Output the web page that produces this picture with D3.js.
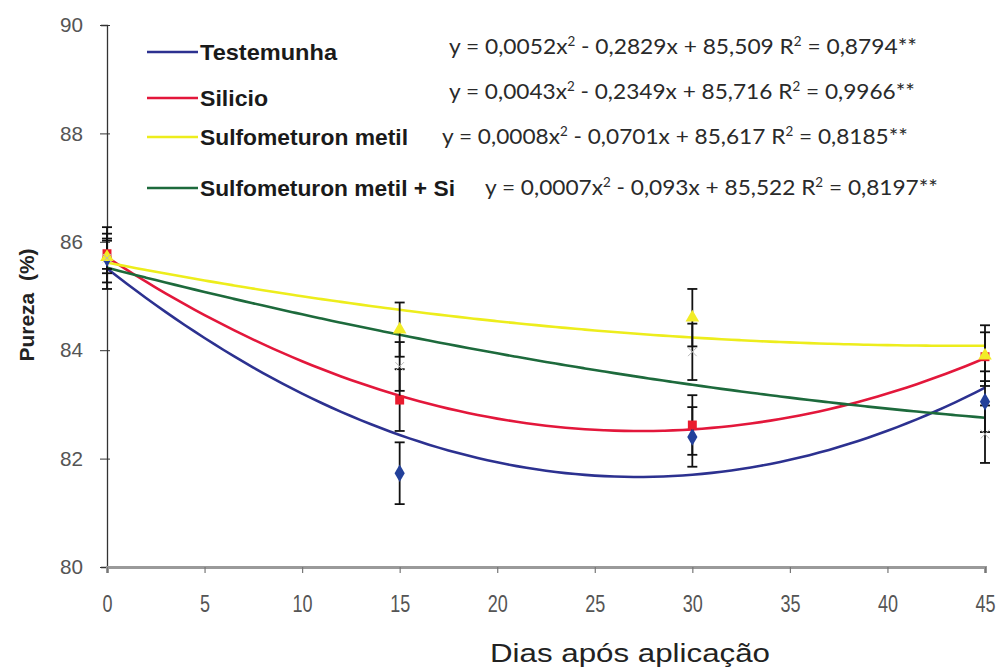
<!DOCTYPE html>
<html>
<head>
<meta charset="utf-8">
<script src="https://cdn.jsdelivr.net/npm/d3@7"></script>
<style>
  html, body { margin: 0; padding: 0; background: #fff; }
  svg { display: block; }
</style>
</head>
<body>
<svg id="chart" width="1000" height="670"></svg>
<script>
// Days after application
const days = [0, 15, 30, 45];
const xTicks = [0, 5, 10, 15, 20, 25, 30, 35, 40, 45];
const yTicks = [80, 82, 84, 86, 88, 90];

// Treatments
const seriesNames = ["Testemunha", "Silicio", "Sulfometuron metil", "Sulfometuron metil + Si"];

// Mean purity (%) per treatment
const testemunha   = [85.70, 81.73, 82.40, 83.05];
const silicio      = [85.78, 83.08, 82.62, 83.88];
const sulfometuron = [85.72, 84.38, 84.60, 83.90];
const sulfSi       = [85.70, 83.70, 83.97, 82.45];

// Error bar half-widths
const errTestemunha   = [0.57, 0.57, 0.55, 0.56];
const errSilicio      = [0.28, 0.57, 0.55, 0.45];
const errSulfometuron = [0.30, 0.50, 0.53, 0.56];
const errSulfSi       = [0.45, 0.45, 0.52, 0.53];

// Quadratic trendlines: [a, b, c] for y = a x^2 + b x + c
const coefTestemunha   = [0.0052, -0.2829, 85.509];
const coefSilicio      = [0.0043, -0.2349, 85.716];
const coefSulfometuron = [0.0008, -0.0701, 85.617];
const coefSulfSi       = [0.0007, -0.093, 85.522];

// Trendline equation labels (text split around the two superscript 2s)
const eqLabels = [
  ["y = 0,0052x", " - 0,2829x + 85,509 R", " = 0,8794**"],
  ["y = 0,0043x", " - 0,2349x + 85,716 R", " = 0,9966**"],
  ["y = 0,0008x", " - 0,0701x + 85,617 R", " = 0,8185**"],
  ["y = 0,0007x", " - 0,093x + 85,522 R", " = 0,8197**"]
];

const colors = ["#2c3190", "#e3173b", "#eded1c", "#1d6a3c"];
const markerFill = ["#23409a", "#ea1b2e", "#f2ec27", "none"];

const series = [
  { name: seriesNames[0], values: testemunha,   err: errTestemunha,   coef: coefTestemunha,   marker: "diamond" },
  { name: seriesNames[1], values: silicio,      err: errSilicio,      coef: coefSilicio,      marker: "square" },
  { name: seriesNames[2], values: sulfometuron, err: errSulfometuron, coef: coefSulfometuron, marker: "triangle" },
  { name: seriesNames[3], values: sulfSi,       err: errSulfSi,       coef: coefSulfSi,       marker: "x" }
];

const svg = d3.select("#chart");
const x = d3.scaleLinear().domain([0, 45]).range([107, 985]);
const y = d3.scaleLinear().domain([80, 90]).range([567, 25]);

const sans = "'Liberation Sans',Arial,sans-serif";

// Y axis
const yAxis = svg.append("g").attr("transform", `translate(${x(0)},0)`)
  .call(d3.axisLeft(y).tickValues(yTicks).tickSize(6).tickPadding(18).tickFormat(d3.format("d")));
yAxis.select(".domain").attr("stroke", "#333").attr("stroke-width", 1.3);
yAxis.selectAll(".tick line").attr("stroke", "#333").attr("x2", -7).attr("x1", 3);
yAxis.selectAll("text")
  .attr("font-family", sans)
  .attr("font-size", 21).attr("fill", "#555")
  .attr("textLength", 23).attr("lengthAdjust", "spacingAndGlyphs");

// X axis
const xAxis = svg.append("g").attr("transform", `translate(0,${y(80)})`)
  .call(d3.axisBottom(x).tickValues(xTicks).tickSize(6).tickPadding(22).tickFormat(d3.format("d")));
xAxis.select(".domain").attr("stroke", "#9a9a9a").attr("stroke-width", 3);
xAxis.selectAll(".tick line").attr("stroke", "#777").attr("stroke-width", 1.2);
// condensed tick labels, narrowed around each tick
xAxis.selectAll("text")
  .attr("font-family", sans)
  .attr("font-size", 24).attr("fill", "#555")
  .attr("transform", "scale(0.75,1)");

// Axis titles
svg.append("text")
  .attr("x", 630).attr("y", 662)
  .attr("text-anchor", "middle")
  .attr("font-family", sans)
  .attr("font-size", 26).attr("fill", "#222")
  .attr("textLength", 280).attr("lengthAdjust", "spacingAndGlyphs")
  .text("Dias após aplicação");

svg.append("text")
  .attr("transform", "translate(34,305) rotate(-90)")
  .attr("text-anchor", "middle")
  .attr("font-family", sans)
  .attr("font-weight", "bold")
  .attr("font-size", 21).attr("fill", "#222")
  .attr("xml:space", "preserve")
  .text("Pureza  (%)");

// Trendlines
const curveX = d3.range(0, 45.01, 0.5);
const line = d3.line().x(d => x(d[0])).y(d => y(d[1])).curve(d3.curveMonotoneX);
series.forEach((s, i) => {
  const pts = curveX.map(t => [t, s.coef[0] * t * t + s.coef[1] * t + s.coef[2]]);
  svg.append("path").datum(pts)
    .attr("d", line).attr("fill", "none")
    .attr("stroke", colors[i]).attr("stroke-width", 2.6);
});

// Error bars
series.forEach((s, i) => {
  const g = svg.append("g").attr("stroke", "#111").attr("stroke-width", 1.8);
  days.forEach((d, j) => {
    const cx = x(d), top = y(s.values[j] + s.err[j]), bot = y(s.values[j] - s.err[j]);
    g.append("line").attr("x1", cx).attr("x2", cx).attr("y1", top).attr("y2", bot);
    g.append("line").attr("x1", cx - 5).attr("x2", cx + 5).attr("y1", top).attr("y2", top);
    g.append("line").attr("x1", cx - 5).attr("x2", cx + 5).attr("y1", bot).attr("y2", bot);
  });
});

// Markers
const symbolType = { diamond: d3.symbolDiamond, square: d3.symbolSquare, triangle: d3.symbolTriangle, x: d3.symbolX };
const symbolSize = { diamond: 90, square: 80, triangle: 80, x: 50 };
series.forEach((s, i) => {
  svg.append("g").selectAll("path").data(days).join("path")
    .attr("transform", (d, j) => `translate(${x(d)},${y(s.values[j])})`)
    .attr("d", d3.symbol().type(symbolType[s.marker]).size(symbolSize[s.marker]))
    .attr("fill", markerFill[i])
    .attr("stroke", s.marker === "x" ? "#b8b8b8" : "none")
    .attr("stroke-width", 1);
});

// Legend
const legendY = [52, 98, 137, 188];
const legendEnd = [337, 268, 408, 455];
const legend = svg.append("g");
series.forEach((s, i) => {
  legend.append("line")
    .attr("x1", 147).attr("x2", 198).attr("y1", legendY[i]).attr("y2", legendY[i])
    .attr("stroke", colors[i]).attr("stroke-width", 2.6);
  legend.append("text")
    .attr("x", 200).attr("y", legendY[i]).attr("dy", "0.36em")
    .attr("font-family", sans)
    .attr("font-weight", "bold").attr("font-size", 22)
    .attr("fill", "#1a1a1a")
    .attr("textLength", legendEnd[i] - 200).attr("lengthAdjust", "spacingAndGlyphs")
    .text(s.name);
});

// Trendline equations
const eqX = [449, 449, 442, 485];
const eqEnd = [917, 915, 908, 938];
const eqY = [47, 92, 137, 188];
eqLabels.forEach((parts, i) => {
  const t = svg.append("text")
    .attr("x", eqX[i]).attr("y", eqY[i]).attr("dy", 7)
    .attr("font-family", "Lato,'Open Sans',sans-serif")
    .attr("font-size", 22).attr("fill", "#2a2a2a")
    .attr("textLength", eqEnd[i] - eqX[i])
    .attr("lengthAdjust", "spacingAndGlyphs");
  t.append("tspan").text(parts[0]);
  t.append("tspan").attr("font-size", 13).attr("dy", -8).text("2");
  t.append("tspan").attr("dy", 8).text(parts[1]);
  t.append("tspan").attr("font-size", 13).attr("dy", -8).text("2");
  t.append("tspan").attr("dy", 8).text(parts[2]);
});
</script>
</body>
</html>
